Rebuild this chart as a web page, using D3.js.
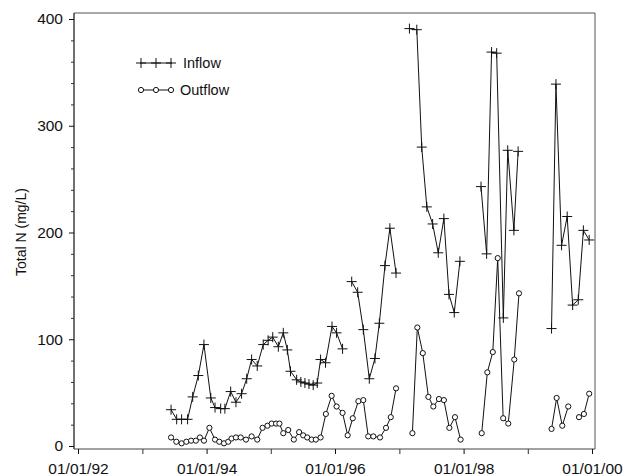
<!DOCTYPE html>
<html>
<head>
<meta charset="utf-8">
<script src="https://cdn.jsdelivr.net/npm/d3@7"></script>
<style>
  html, body { margin: 0; padding: 0; background: #fff; }
  svg { display: block; font-family: "Liberation Sans", Arial, Helvetica, sans-serif; }
</style>
</head>
<body>
<svg id="chart" width="627" height="476"></svg>
<script>
// Total nitrogen sampling record, inflow vs outflow (null = break in record)
const inflowDates = [
  "1993-06-13","1993-07-15","1993-08-12","1993-09-15","1993-10-14","1993-11-15","1993-12-17",
  "1994-01-25","1994-02-18","1994-03-22","1994-04-15","1994-05-18","1994-06-17","1994-07-19",
  "1994-08-17","1994-09-14","1994-10-16","1994-11-19","1994-12-17",
  "1995-01-12","1995-02-13","1995-03-13","1995-04-05","1995-04-23","1995-05-28","1995-06-21",
  "1995-07-14","1995-08-06","1995-08-30","1995-09-22","1995-10-11","1995-11-08","1995-12-15",
  "1996-01-10","1996-02-13",
  null,
  "1996-04-05","1996-05-09","1996-06-10","1996-07-14","1996-08-15","1996-09-09","1996-10-11",
  "1996-11-08","1996-12-13",
  null,
  "1997-02-27","1997-04-10","1997-05-08","1997-06-06","1997-07-09","1997-08-10","1997-09-11",
  "1997-10-10","1997-11-09","1997-12-11",
  null,
  "1998-04-10","1998-05-12","1998-06-09","1998-07-08","1998-08-15","1998-09-09","1998-10-14",
  "1998-11-07",
  null,
  "1999-05-16","1999-06-10","1999-07-12","1999-08-13","1999-09-13","1999-10-15","1999-11-13",
  "1999-12-16"
];
const inflowValues = [
  34, 25, 25, 25, 46, 66, 95,
  45, 36, 35, 35, 51, 41, 49,
  63, 81, 75, 95, 99,
  102, 93, 106, 90, 70, 62, 60,
  59, 58, 57, 59, 81, 78, 112,
  106, 91,
  null,
  154, 144, 109, 63, 82, 115, 169,
  204, 162,
  null,
  391, 390, 280, 224, 208, 181, 213,
  142, 125, 173,
  null,
  243, 180, 369, 368, 120, 277, 202,
  276,
  null,
  110, 339, 188, 215, 132, 137, 202,
  193
];

const outflowDates = [
  "1993-06-13","1993-07-13","1993-08-12","1993-09-08","1993-10-05","1993-11-01","1993-11-24",
  "1993-12-17","1994-01-17","1994-02-18","1994-03-14","1994-04-10","1994-05-04","1994-05-23",
  "1994-06-17","1994-07-14","1994-08-13","1994-09-14","1994-10-16","1994-11-15","1994-12-13",
  "1995-01-06","1995-01-31","1995-02-19","1995-03-13","1995-04-10","1995-05-12","1995-06-11",
  "1995-07-04","1995-07-27","1995-08-21","1995-09-14","1995-10-11","1995-11-10","1995-12-13",
  "1996-01-10","1996-02-13","1996-03-13","1996-04-11","1996-05-13","1996-06-10","1996-07-08",
  "1996-08-06","1996-09-13","1996-10-17","1996-11-13","1996-12-13",
  null,
  "1997-03-16","1997-04-13","1997-05-14","1997-06-15","1997-07-13","1997-08-14","1997-09-11",
  "1997-10-12","1997-11-13","1997-12-15",
  null,
  "1998-04-14","1998-05-16","1998-06-16","1998-07-14","1998-08-14","1998-09-12","1998-10-16",
  "1998-11-12",
  null,
  "1999-05-16","1999-06-14","1999-07-16","1999-08-19",
  null,
  "1999-10-19","1999-11-16","1999-12-16"
];
const outflowValues = [
  8, 4, 2.5, 4, 5, 5, 8,
  5, 17, 6, 4, 2.5, 4, 7,
  8, 8, 6, 9, 6, 17, 19,
  21, 21, 21, 12, 15, 6, 13,
  10, 8, 6, 6, 8, 30, 47,
  37, 31, 10, 26, 42, 43, 9,
  9, 8, 17, 27, 54,
  null,
  12, 111, 87, 46, 37, 44, 43,
  17, 27, 6,
  null,
  12, 69, 88, 176, 26, 21, 81,
  143,
  null,
  16, 45, 19, 37,
  null,
  27, 30, 49
];

const yTicks = [0, 100, 200, 300, 400];
const yMinorTicks = d3.range(0, 401, 20).filter(v => v % 100 !== 0);
const xTickLabels = ["1992-01-01", "1994-01-01", "1996-01-01", "1998-01-01", "2000-01-01"];
const xMinorTicks = ["1993-01-01", "1995-01-01", "1997-01-01", "1999-01-01"];
const seriesNames = ["Inflow", "Outflow"];

const parse = d3.timeParse("%Y-%m-%d");
const toPoints = (dates, values) => dates.map((d, i) => ({
  date: d ? parse(d) : null,
  value: values[i]
}));
const inflow = toPoints(inflowDates, inflowValues);
const outflow = toPoints(outflowDates, outflowValues);

const svg = d3.select("#chart");
const frame = { left: 74, right: 595, top: 13, bottom: 449 };

const x = d3.scaleTime()
  .domain([parse("1992-01-01"), parse("2000-01-01")])
  .range([78, 592]);
const y = d3.scaleLinear().domain([0, 400]).range([446, 19]);

const ink = "#111";

// plot frame: top and right edges lighter
svg.append("line")
  .attr("x1", frame.left).attr("x2", frame.right)
  .attr("y1", frame.top).attr("y2", frame.top)
  .attr("stroke", "#555").attr("stroke-width", 1);
svg.append("line")
  .attr("x1", frame.right).attr("x2", frame.right)
  .attr("y1", frame.top).attr("y2", frame.bottom)
  .attr("stroke", "#555").attr("stroke-width", 1);
svg.append("line")
  .attr("x1", frame.left).attr("x2", frame.left)
  .attr("y1", frame.top).attr("y2", frame.bottom)
  .attr("stroke", ink).attr("stroke-width", 1.2);
svg.append("line")
  .attr("x1", frame.left).attr("x2", frame.right)
  .attr("y1", frame.bottom).attr("y2", frame.bottom)
  .attr("stroke", "#444").attr("stroke-width", 1.2);

// y axis
const yAxis = svg.append("g")
  .attr("transform", `translate(${frame.left},0)`)
  .call(d3.axisLeft(y).tickValues(yTicks).tickSize(5).tickSizeOuter(0).tickPadding(6));
yAxis.select(".domain").remove();
yAxis.selectAll("text").attr("font-size", 15.5).attr("fill", ink)
  .attr("font-family", "Liberation Sans, Arial, sans-serif");
yAxis.selectAll("line").attr("stroke", ink);

const yMinor = svg.append("g")
  .attr("transform", `translate(${frame.left},0)`)
  .call(d3.axisLeft(y).tickValues(yMinorTicks).tickSize(3).tickFormat(""));
yMinor.select(".domain").remove();
yMinor.selectAll("line").attr("stroke", "#333");

// x axis
const xAxis = svg.append("g")
  .attr("transform", `translate(0,${frame.bottom})`)
  .call(d3.axisBottom(x)
    .tickValues(xTickLabels.map(parse))
    .tickFormat(d3.timeFormat("%m/%d/%y"))
    .tickSize(5).tickSizeOuter(0).tickPadding(9));
xAxis.select(".domain").remove();
xAxis.selectAll("text").attr("font-size", 15.5).attr("fill", ink)
  .attr("font-family", "Liberation Sans, Arial, sans-serif");
xAxis.selectAll("line").attr("stroke", ink);

const xMinor = svg.append("g")
  .attr("transform", `translate(0,${frame.bottom})`)
  .call(d3.axisBottom(x).tickValues(xMinorTicks.map(parse)).tickSize(5).tickFormat(""));
xMinor.select(".domain").remove();
xMinor.selectAll("line").attr("stroke", "#333");

// y axis title
svg.append("text")
  .attr("transform", `translate(26,232) rotate(-90)`)
  .attr("text-anchor", "middle")
  .attr("font-size", 14)
  .attr("fill", ink)
  .text("Total N (mg/L)");

// series lines
const line = d3.line()
  .defined(d => d.date !== null && d.value !== null)
  .x(d => x(d.date))
  .y(d => y(d.value));

svg.append("path").datum(inflow)
  .attr("d", line).attr("fill", "none")
  .attr("stroke", ink).attr("stroke-width", 1);
svg.append("path").datum(outflow)
  .attr("d", line).attr("fill", "none")
  .attr("stroke", ink).attr("stroke-width", 1);

// markers
const plusPath = "M-5,0H5M0,-5V5";
svg.append("g").selectAll("path")
  .data(inflow.filter(d => d.date !== null))
  .join("path")
  .attr("transform", d => `translate(${x(d.date)},${y(d.value)})`)
  .attr("d", plusPath)
  .attr("stroke", ink).attr("stroke-width", 1).attr("fill", "none");

svg.append("g").selectAll("circle")
  .data(outflow.filter(d => d.date !== null))
  .join("circle")
  .attr("cx", d => x(d.date))
  .attr("cy", d => y(d.value))
  .attr("r", 2.6)
  .attr("fill", "#fff")
  .attr("stroke", ink).attr("stroke-width", 1);

// legend
const legend = svg.append("g");
const legendRows = [
  { name: seriesNames[0], y: 63, marker: "plus" },
  { name: seriesNames[1], y: 90, marker: "circle" }
];
legendRows.forEach(row => {
  legend.append("line")
    .attr("x1", 140).attr("x2", 172)
    .attr("y1", row.y).attr("y2", row.y)
    .attr("stroke", ink).attr("stroke-width", 1);
  [141, 156, 171].forEach(mx => {
    if (row.marker === "plus") {
      legend.append("path")
        .attr("transform", `translate(${mx},${row.y})`)
        .attr("d", plusPath)
        .attr("stroke", ink).attr("fill", "none");
    } else {
      legend.append("circle")
        .attr("cx", mx).attr("cy", row.y).attr("r", 2.6)
        .attr("fill", "#fff").attr("stroke", ink);
    }
  });
  legend.append("text")
    .attr("x", row.marker === "plus" ? 183 : 180)
    .attr("y", row.y + 5)
    .attr("font-size", 14.5)
    .attr("fill", ink)
    .text(row.name);
});
</script>
</body>
</html>
